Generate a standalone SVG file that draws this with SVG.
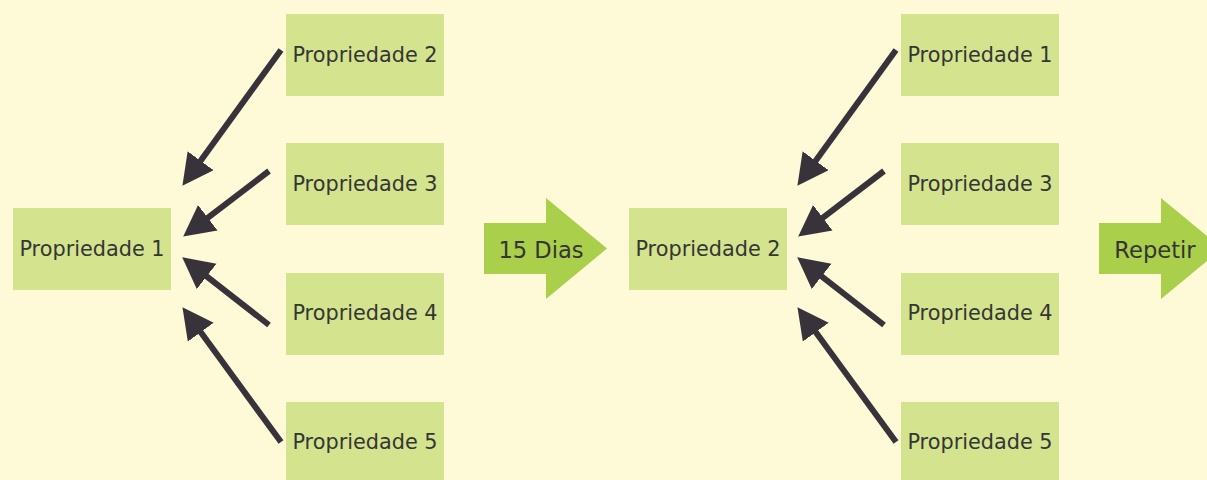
<svg xmlns="http://www.w3.org/2000/svg" width="1207" height="480" viewBox="0 0 1207 480">
<style>
.box{fill:#D3E38E}
.lbl{font-family:"DejaVu Sans",Verdana,sans-serif;font-size:20.8px;fill:#353535;text-anchor:middle}
.big{font-size:22.6px}
.step{fill:#A9CF4B}
.con{stroke:#38333A;stroke-width:6;fill:none;marker-end:url(#ah)}
</style>
<defs>
<marker id="ah" markerUnits="userSpaceOnUse" markerWidth="34" markerHeight="34" refX="15" refY="16" orient="auto" viewBox="0 0 34 34">
<path d="M0,0 L31,16 L0,32 z" fill="#38333A"/>
</marker>
</defs>
<rect width="1207" height="480" fill="#FEF9D6"/>

<g id="g1">
<g id="p1a"><rect class="box" x="13" y="208" width="158" height="82"/><text class="lbl" x="92" y="256">Propriedade 1</text></g>
<g id="p2a"><rect class="box" x="286" y="14" width="158" height="82"/><text class="lbl" x="365" y="62">Propriedade 2</text></g>
<g id="p3a"><rect class="box" x="286" y="143" width="158" height="82"/><text class="lbl" x="365" y="191">Propriedade 3</text></g>
<g id="p4a"><rect class="box" x="286" y="273" width="158" height="82"/><text class="lbl" x="365" y="320">Propriedade 4</text></g>
<g id="p5a"><rect class="box" x="286" y="402" width="158" height="82"/><text class="lbl" x="365" y="449">Propriedade 5</text></g>
</g>

<g id="step1"><path class="step" d="M484,223 H546 V198 L607,248.5 L546,299 V274 H484 z"/><text class="lbl big" x="541" y="258">15 Dias</text></g>

<g id="g2">
<g id="p2b"><rect class="box" x="629" y="208" width="158" height="82"/><text class="lbl" x="708" y="256">Propriedade 2</text></g>
<g id="p1b"><rect class="box" x="901" y="14" width="158" height="82"/><text class="lbl" x="980" y="62">Propriedade 1</text></g>
<g id="p3b"><rect class="box" x="901" y="143" width="158" height="82"/><text class="lbl" x="980" y="191">Propriedade 3</text></g>
<g id="p4b"><rect class="box" x="901" y="273" width="158" height="82"/><text class="lbl" x="980" y="320">Propriedade 4</text></g>
<g id="p5b"><rect class="box" x="901" y="402" width="158" height="82"/><text class="lbl" x="980" y="449">Propriedade 5</text></g>
</g>

<g id="step2"><path class="step" d="M1099,223 H1161 V198 L1222,248.5 L1161,299 V274 H1099 z"/><text class="lbl big" x="1155" y="258">Repetir</text></g>

<g id="connectors">
<line class="con" x1="281" y1="50" x2="191.8" y2="172.9"/>
<line class="con" x1="269" y1="171" x2="195.9" y2="226.9"/>
<line class="con" x1="269" y1="325" x2="194.8" y2="267.2"/>
<line class="con" x1="281" y1="442" x2="191.9" y2="320.1"/>
<line class="con" x1="896" y1="50" x2="806.8" y2="172.9"/>
<line class="con" x1="884" y1="171" x2="810.9" y2="226.9"/>
<line class="con" x1="884" y1="325" x2="809.8" y2="267.2"/>
<line class="con" x1="896" y1="442" x2="806.9" y2="320.1"/>
</g>
</svg>
